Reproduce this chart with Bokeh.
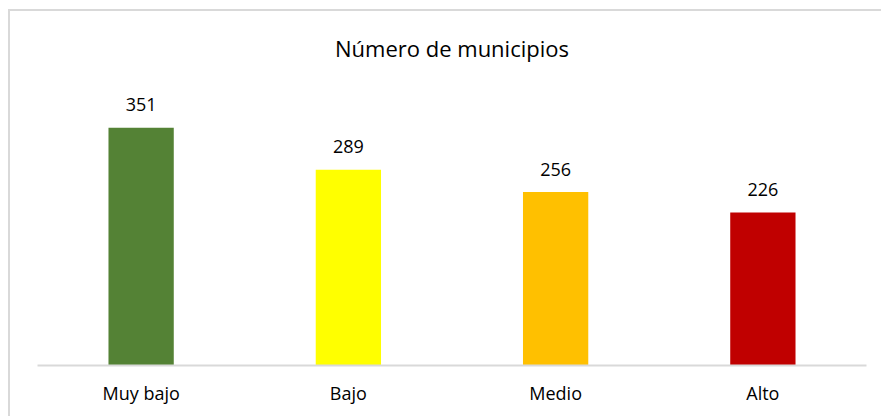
from bokeh.plotting import figure
from bokeh.models import ColumnDataSource, LabelSet, Range1d
from bokeh.core.properties import value
from bokeh.embed import file_html
from bokeh.resources import INLINE

categories = ["Muy bajo", "Bajo", "Medio", "Alto"]
counts = [351, 289, 256, 226]
colors = ["#548235", "#FFFF00", "#FFC000", "#C00000"]
title_text = "Número de municipios"

FONT = "Open Sans"

# axis max 400 spans 271 px; the frame is extended upward to hold the title
Y_TOP = 400 * 345 / 271
TITLE_Y = 400 * 318 / 271

src = ColumnDataSource(dict(cat=categories, val=counts, col=colors,
                            lbl=[str(v) for v in counts]))

p = figure(x_range=categories, y_range=Range1d(0, Y_TOP),
           width=873, height=407, output_backend="svg", toolbar_location=None,
           min_border_left=27, min_border_right=17, min_border_top=9, min_border_bottom=53)
p.margin = (9, 0, 0, 8)
p.styles = {"border-left": "2px solid #d9d9d9", "border-top": "2px solid #d9d9d9"}

p.vbar(x="cat", top="val", width=0.315, fill_color="col", line_color=None, source=src)

labels = LabelSet(x="cat", y="val", text="lbl", source=src, text_align="center",
                  text_baseline="middle", y_offset=23, text_font=value(FONT),
                  text_font_size="18px", text_color="#000000")
p.add_layout(labels)

tsrc = ColumnDataSource(dict(x=[2.0], y=[TITLE_Y], t=[title_text]))
p.text(x="x", y="y", text="t", source=tsrc, text_align="center", text_baseline="middle",
       text_font=value(FONT), text_font_size="22px", text_color="#000000")

p.outline_line_color = None
p.xgrid.grid_line_color = None
p.ygrid.grid_line_color = None
p.yaxis.visible = False
p.xaxis.axis_line_color = "#d9d9d9"
p.xaxis.axis_line_width = 2
p.xaxis.major_tick_line_color = None
p.xaxis.minor_tick_line_color = None
p.xaxis.major_label_standoff = 9
p.xaxis.major_label_text_font = FONT
p.xaxis.major_label_text_font_size = "18px"
p.xaxis.major_label_text_color = "#000000"
p.x_range.range_padding = 0

open("out.html", "w").write(file_html(p, INLINE))
